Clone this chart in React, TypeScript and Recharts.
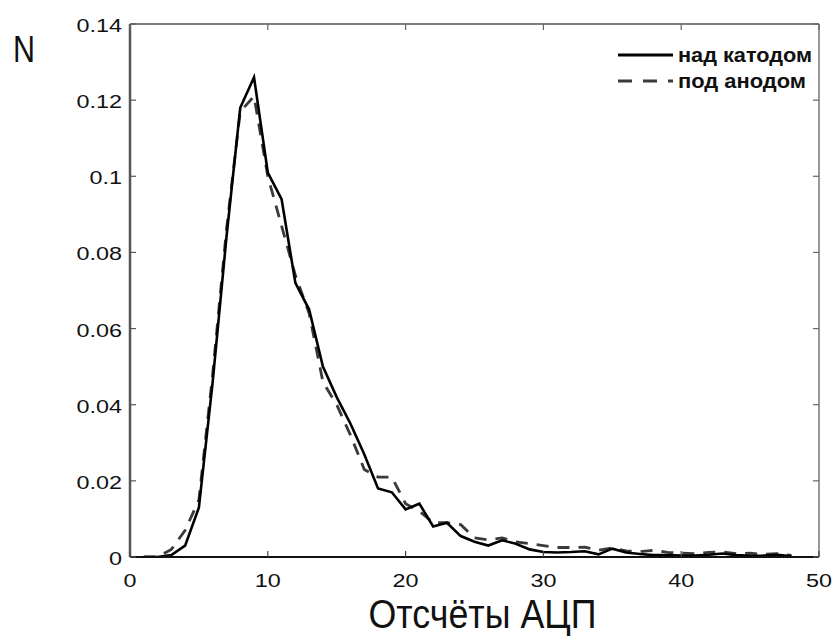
import React from 'react';
import { LineChart, Line, XAxis, YAxis, Legend, Label } from 'recharts';

// ADC counts (x) and normalized counts N for the two series
const adcCounts = [
  1, 2, 3, 4, 5, 6, 7, 8, 9, 10, 11, 12, 13, 14, 15, 16, 17, 18, 19, 20, 21, 22, 23, 24,
  25, 26, 27, 28, 29, 30, 31, 32, 33, 34, 35, 36, 37, 38, 39, 40, 41, 42, 43, 44, 45, 46, 47, 48,
];
const overCathode = [
  0, 0, 0.0005, 0.003, 0.013, 0.046, 0.084, 0.118, 0.126, 0.101, 0.094, 0.072, 0.065, 0.05,
  0.042, 0.035, 0.027, 0.018, 0.017, 0.0125, 0.014, 0.008, 0.009, 0.0055, 0.004, 0.003, 0.0044,
  0.0035, 0.002, 0.0013, 0.0012, 0.0013, 0.0015, 0.0007, 0.0022, 0.0012, 0.0008, 0.0005, 0.0005,
  0.0004, 0.0004, 0.0006, 0.0009, 0.0005, 0.0003, 0.0004, 0.0006, 0.0002,
];
const underAnode = [
  0, 0, 0.002, 0.007, 0.015, 0.048, 0.086, 0.117, 0.121, 0.1, 0.087, 0.074, 0.064, 0.046, 0.04,
  0.032, 0.023, 0.021, 0.021, 0.014, 0.012, 0.009, 0.009, 0.0085, 0.005, 0.0045, 0.005, 0.004,
  0.0035, 0.003, 0.0025, 0.0025, 0.0026, 0.0018, 0.0024, 0.0016, 0.0014, 0.0018, 0.0012, 0.001,
  0.0009, 0.0012, 0.0013, 0.0009, 0.001, 0.0007, 0.0009, 0.0004,
];
const xTicks = [0, 10, 20, 30, 40, 50];
const yTicks = [0, 0.02, 0.04, 0.06, 0.08, 0.1, 0.12, 0.14];
const seriesNames = ['над катодом', 'под анодом'];
const legendTextWidths = [134, 128];
const xAxisTitle = 'Отсчёты АЦП';
const yAxisTitle = 'N';

const data = adcCounts.map((x, i) => ({ x, cathode: overCathode[i], anode: underAnode[i] }));

const FONT = '"Liberation Sans", Arial, Helvetica, sans-serif';
const TICK_LEN = 6;

const BottomTick = (props: any) => {
  const { x, y, payload } = props;
  return (
    <g>
      <line x1={x} x2={x} y1={y} y2={y - TICK_LEN} stroke="#444" strokeWidth={1.2} />
      <text
        transform={`translate(${x},${y + 30}) scale(1.3,1)`}
        textAnchor="middle"
        fontSize={18}
        fontFamily={FONT}
        fill="#111"
      >
        {String(payload.value)}
      </text>
    </g>
  );
};

const LeftTick = (props: any) => {
  const { x, y, payload } = props;
  return (
    <g>
      <line x1={x} x2={x + TICK_LEN} y1={y} y2={y} stroke="#555" strokeWidth={1.2} />
      <text
        transform={`translate(${x - 8},${y + 8}) scale(1.3,1)`}
        textAnchor="end"
        fontSize={18}
        fontFamily={FONT}
        fill="#111"
      >
        {String(payload.value)}
      </text>
    </g>
  );
};

const TopTick = (props: any) => {
  const { x, y } = props;
  return <line x1={x} x2={x} y1={y} y2={y + TICK_LEN} stroke="#666" strokeWidth={1.2} />;
};

const RightTick = (props: any) => {
  const { x, y } = props;
  return <line x1={x} x2={x - TICK_LEN} y1={y} y2={y} stroke="#666" strokeWidth={1.2} />;
};

const XTitle = (props: any) => {
  const vb = props.viewBox || {};
  const cx = vb.x + vb.width / 2 + 8;
  return (
    <text
      x={cx}
      y={vb.y + 71}
      textAnchor="middle"
      fontSize={40}
      fontFamily={FONT}
      fill="#111"
      textLength={228}
      lengthAdjust="spacingAndGlyphs"
    >
      {xAxisTitle}
    </text>
  );
};

const YTitle = (props: any) => {
  const vb = props.viewBox || {};
  return (
    <text
      x={vb.x + 13}
      y={vb.y + 38}
      fontSize={37}
      fontFamily={FONT}
      fill="#111"
      textLength={22}
      lengthAdjust="spacingAndGlyphs"
    >
      {yAxisTitle}
    </text>
  );
};

const LegendContent = (props: any) => {
  const items = [...(props.payload || [])].sort(
    (a: any, b: any) => seriesNames.indexOf(a.value) - seriesNames.indexOf(b.value)
  );
  return (
    <svg width={220} height={60} style={{ display: 'block' }}>
      {items.map((it: any, i: number) => {
        const ly = 15 + i * 26;
        const dash = it.payload && it.payload.strokeDasharray;
        const idx = seriesNames.indexOf(it.value);
        return (
          <g key={it.value}>
            <line
              x1={8}
              x2={63}
              y1={ly}
              y2={ly}
              stroke={it.color}
              strokeWidth={3}
              strokeDasharray={dash ? '14 11' : undefined}
            />
            <text
              x={68}
              y={ly + 7}
              fontSize={20}
              fontWeight="bold"
              fontFamily={FONT}
              fill="#111"
              textLength={legendTextWidths[idx]}
              lengthAdjust="spacingAndGlyphs"
            >
              {it.value}
            </text>
          </g>
        );
      })}
    </svg>
  );
};

export default function App() {
  return (
    <div style={{ position: 'absolute', left: 0, top: 0, width: 836, height: 636, background: '#fff' }}>
      <LineChart
        width={836}
        height={636}
        data={data}
        margin={{ top: 23, right: 16, left: 0, bottom: 0 }}
      >
        <XAxis
          dataKey="x"
          type="number"
          domain={[0, 50]}
          ticks={xTicks}
          interval={0}
          allowDataOverflow
          height={79}
          tickSize={0}
          tickMargin={0}
          tick={<BottomTick />}
          axisLine={{ stroke: '#111', strokeWidth: 2 }}
        >
          <Label content={<XTitle />} position="bottom" />
        </XAxis>
        <XAxis
          xAxisId="top"
          orientation="top"
          dataKey="x"
          type="number"
          domain={[0, 50]}
          ticks={xTicks}
          interval={0}
          allowDataOverflow
          height={1}
          tickSize={0}
          tickMargin={0}
          tick={<TopTick />}
          axisLine={{ stroke: '#555', strokeWidth: 1.5 }}
        />
        <YAxis
          type="number"
          domain={[0, 0.14]}
          ticks={yTicks}
          interval={0}
          allowDataOverflow
          width={130}
          tickSize={0}
          tickMargin={0}
          tick={<LeftTick />}
          axisLine={{ stroke: '#555', strokeWidth: 2.5 }}
        >
          <Label content={<YTitle />} position="insideTopLeft" />
        </YAxis>
        <YAxis
          yAxisId="right"
          orientation="right"
          type="number"
          domain={[0, 0.14]}
          ticks={yTicks}
          interval={0}
          allowDataOverflow
          width={1}
          tickSize={0}
          tickMargin={0}
          tick={<RightTick />}
          axisLine={{ stroke: '#777', strokeWidth: 1.5 }}
        />
        <Legend
          layout="horizontal"
          verticalAlign="middle"
          align="center"
          content={<LegendContent />}
          wrapperStyle={{ position: 'absolute', left: 610, top: 40, width: 220, height: 60 }}
        />
        <Line
          name={seriesNames[1]}
          dataKey="anode"
          type="linear"
          stroke="#3a3a3a"
          strokeWidth={2.8}
          strokeDasharray="12 9"
          dot={false}
          activeDot={false}
          isAnimationActive={false}
        />
        <Line
          name={seriesNames[0]}
          dataKey="cathode"
          type="linear"
          stroke="#000"
          strokeWidth={2.6}
          dot={false}
          activeDot={false}
          isAnimationActive={false}
        />
      </LineChart>
    </div>
  );
}
